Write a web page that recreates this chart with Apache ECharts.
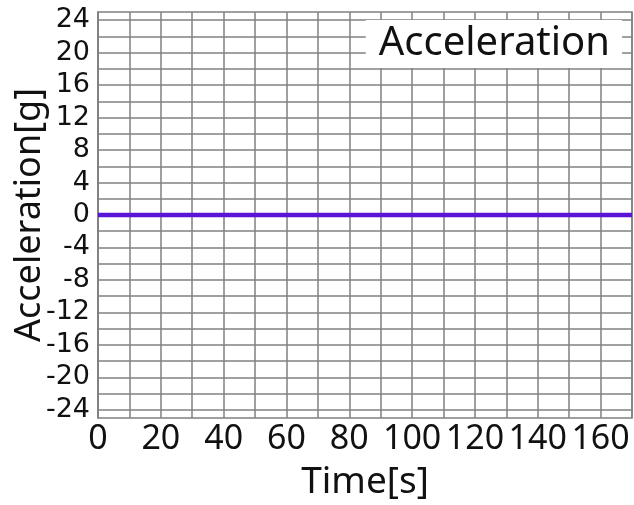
<!DOCTYPE html>
<html>
<head>
<meta charset="utf-8">
<script src="https://cdn.jsdelivr.net/npm/echarts@6/dist/echarts.min.js"></script>
<style>html,body{margin:0;padding:0;background:#fff}#c{width:634px;height:505px}</style>
</head>
<body>
<div id="c"></div>
<script>
var timeValues = [0, 170];
var accelValues = [0, 0];
var seriesName = 'Acceleration';
var xLabelStep = 20;
var yLabelStep = 4;
var xRange = [0, 170];
var yRange = [-25, 25];

var chart = echarts.init(document.getElementById('c'));
var data = timeValues.map(function (t, i) { return [t, accelValues[i]]; });
var gridColor = '#808080';
chart.setOption({
  animation: false,
  backgroundColor: '#fff',
  grid: { left: 98, right: 2, top: 12, bottom: 87, containLabel: false, outerBoundsMode: 'none', show: true, borderColor: gridColor, borderWidth: 1.5, backgroundColor: 'transparent' },
  legend: {
    show: true, right: 12, top: 20, icon: 'none', itemWidth: 0, itemGap: 0,
    backgroundColor: '#fff', padding: [4, 12, 4, 8],
    textStyle: { fontFamily: 'Noto Sans', fontSize: 40, color: '#111' },
    data: [seriesName]
  },
  xAxis: {
    type: 'value', min: xRange[0], max: xRange[1], interval: 10,
    name: 'Time[s]', nameLocation: 'middle', nameGap: 46, nameMoveOverlap: false,
    nameTextStyle: { fontFamily: 'Noto Sans', fontSize: 37, color: '#111' },
    axisLine: { show: true, lineStyle: { color: gridColor, width: 1.5 } },
    axisTick: { show: false },
    axisLabel: {
      margin: 4, fontFamily: 'Noto Sans', fontSize: 34, color: '#111',
      formatter: function (v) { return v % xLabelStep === 0 ? String(v) : ''; }
    },
    splitLine: { show: true, lineStyle: { color: gridColor, width: 1.5 } }
  },
  yAxis: {
    type: 'value', min: yRange[0], max: yRange[1], interval: 1,
    name: 'Acceleration[g]', nameLocation: 'middle', nameGap: 50, nameMoveOverlap: false,
    nameTextStyle: { fontFamily: 'Noto Sans', fontSize: 36, color: '#111' },
    axisLine: { show: true, lineStyle: { color: gridColor, width: 1.5 } },
    axisTick: { show: false },
    axisLabel: {
      margin: 8, fontFamily: 'DejaVu Sans', fontSize: 27, color: '#111',
      formatter: function (v) { return v % yLabelStep === 0 ? String(v) : ''; }
    },
    splitLine: { show: true, lineStyle: { color: ['transparent', gridColor], width: 1.5 } }
  },
  series: [{
    name: seriesName, type: 'line', data: data, showSymbol: false,
    lineStyle: { color: '#5a14d8', width: 4.5 }, itemStyle: { color: '#5a14d8' }
  }]
});
</script>
</body>
</html>
